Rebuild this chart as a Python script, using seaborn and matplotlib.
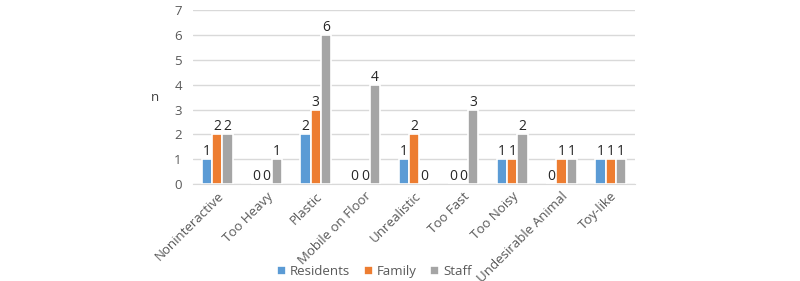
import pandas as pd
import matplotlib.pyplot as plt
import seaborn as sns

categories = ['Noninteractive', 'Too Heavy', 'Plastic', 'Mobile on Floor', 'Unrealistic',
              'Too Fast', 'Too Noisy', 'Undesirable Animal', 'Toy-like']
residents = [1, 0, 2, 0, 1, 0, 1, 0, 1]
family = [2, 0, 3, 0, 2, 0, 1, 1, 1]
staff = [2, 1, 6, 4, 0, 3, 2, 1, 1]
groups = ['Residents', 'Family', 'Staff']
colors = ['#5B9BD5', '#ED7D31', '#A5A5A5']

df = pd.DataFrame({'Category': categories * 3,
                   'Group': [g for g in groups for _ in categories],
                   'n': residents + family + staff})

sns.set_style('white')
plt.rcParams['font.family'] = ['Open Sans', 'DejaVu Sans']

fig = plt.figure(figsize=(8, 2.81), dpi=100)
ax = fig.add_axes([0.241, 0.345, 0.553, 0.619])
sns.barplot(data=df, x='Category', y='n', hue='Group', palette=colors, saturation=1,
            width=0.62, edgecolor='white', linewidth=1.2, ax=ax, legend=True)

for c in ax.containers:
    ax.bar_label(c, fontsize=10, color='#262626', padding=0)

ax.set_ylim(0, 7)
ax.set_yticks(range(8))
ax.grid(axis='y', color='#D9D9D9', linewidth=1)
ax.set_axisbelow(True)
for s in ['top', 'right', 'left']:
    ax.spines[s].set_visible(False)
ax.spines['bottom'].set_color('#D9D9D9')
ax.tick_params(axis='both', length=0, labelsize=9.5, colors='#595959', pad=4)
ax.tick_params(axis='y', pad=8)
plt.setp(ax.get_xticklabels(), rotation=45, ha='right', rotation_mode='anchor')
ax.set_xlabel('')
ax.set_ylabel('n', rotation=0, fontsize=9.5, color='#404040', labelpad=14, va='center')

ax.legend(loc='center', bbox_to_anchor=(0.41, -0.505), ncol=3, frameon=False,
          fontsize=9.5, handlelength=0.7, handleheight=0.7, columnspacing=1.0,
          handletextpad=0.3, labelcolor='#595959')

fig.savefig('out.png', dpi=100)
